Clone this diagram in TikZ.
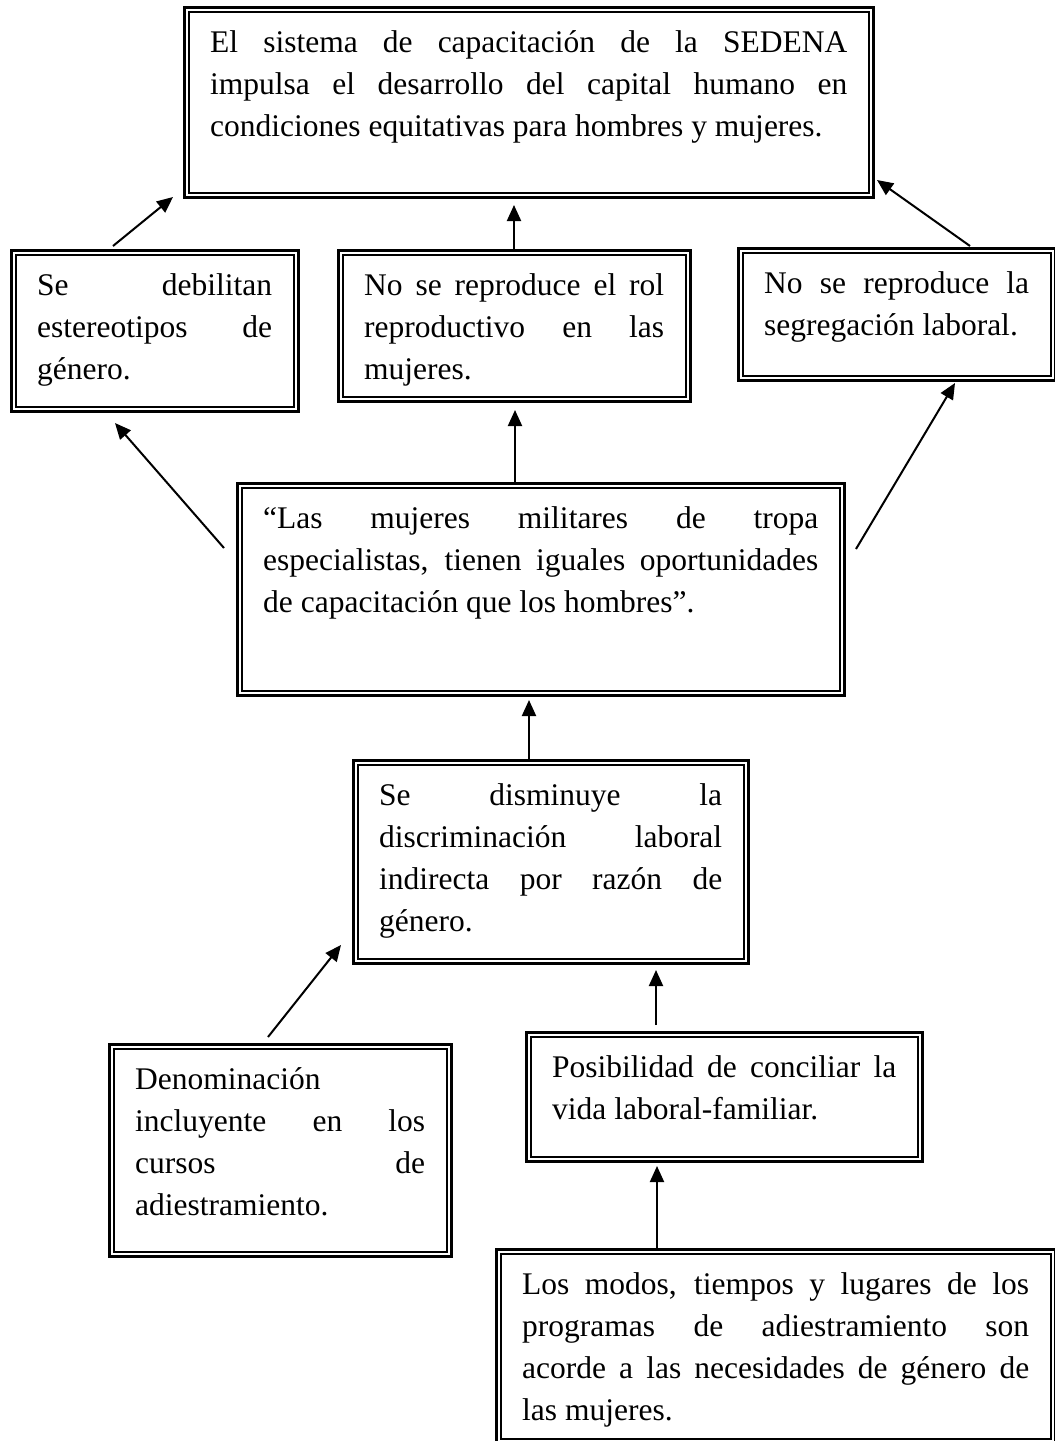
\documentclass[tikz,border=0pt]{standalone}
\usepackage{fontspec}
\setmainfont{Liberation Serif}
\usetikzlibrary{arrows.meta}
\newcommand\boxfont{\fontsize{31.5}{42}\selectfont\tolerance=10000\hyphenpenalty=10000\exhyphenpenalty=10000\relax}
\newcommand\dbox[5]{%
  \pgfmathsetmacro\dbW{#4-#2-3}\pgfmathsetmacro\dbH{#5-#3-3}%
  \node[bx, minimum width=\dbW pt, minimum height=\dbH pt] (#1) at (#2,#3) {};%
  \draw[inl] ([shift={(5.8,5.8)}]#1.north west) rectangle ([shift={(-5.8,-5.8)}]#1.south east);%
}
\newcommand\btext[5]{%
  \pgfmathsetmacro\dbT{#4-#2-55}%
  \node[txt, text width=\dbT pt] (#1) at (#2+27,#3+46) {#5};%
}
\begin{document}
\begin{tikzpicture}[x=1pt,y=-1pt,
  bx/.style={draw, line width=3pt, inner sep=0pt, anchor=north west},
  inl/.style={line width=1.5pt},
  txt/.style={anchor=base west, inner sep=0pt, align=justify, font=\boxfont},
  arr/.style={line width=2pt, -{Triangle[length=16pt,width=14pt]}}]
\fill[white] (0,0) rectangle (1055,1441);
\useasboundingbox (0,0) rectangle (1055,1441);
% boxes
\dbox{T}{183}{6}{875}{199}
\dbox{A}{10}{249}{300}{413}
\dbox{B}{337}{249}{692}{403}
\dbox{C}{737}{247}{1057}{382}
\dbox{M}{236}{482}{846}{697}
\dbox{D}{352}{759}{750}{965}
\dbox{N}{108}{1043}{453}{1258}
\dbox{P}{525}{1031}{924}{1163}
\dbox{L}{495}{1248}{1057}{1445}
% texts
\btext{tT}{183}{6}{875}{El sistema de capacitación de la SEDENA\linebreak impulsa el desarrollo del capital humano en\linebreak condiciones equitativas para hombres y mujeres.}
\btext{tA}{10}{249}{300}{Se debilitan\linebreak estereotipos de\linebreak género.}
\btext{tB}{337}{249}{692}{No se reproduce el rol\linebreak reproductivo en las\linebreak mujeres.}
\btext{tC}{737}{247}{1057}{No se reproduce la\linebreak segregación laboral.}
\btext{tM}{236}{482}{846}{“Las mujeres militares de tropa\linebreak especialistas, tienen iguales oportunidades\linebreak de capacitación que los hombres”.}
\btext{tD}{352}{759}{750}{Se disminuye la\linebreak discriminación laboral\linebreak indirecta por razón de\linebreak género.}
\btext{tN}{108}{1043}{453}{Denominación\newline incluyente en los\linebreak cursos de\linebreak adiestramiento.}
\btext{tP}{525}{1031}{924}{Posibilidad de conciliar la\linebreak vida laboral-familiar.}
\btext{tL}{495}{1248}{1057}{Los modos, tiempos y lugares de los\linebreak programas de adiestramiento son\linebreak acorde a las necesidades de género de\linebreak las mujeres.}
% connectors
\draw[arr] ([shift={(103,-3)}]A.north west) -- ([shift={(-10,-2)}]T.south west);
\draw[arr] ([shift={(177,0)}]B.north west) -- ([shift={(331,6)}]T.south west);
\draw[arr] ([shift={(233,-1)}]C.north west) -- ([shift={(2,-19)}]T.south east);
\draw[arr] ([shift={(-12,66)}]M.north west) -- ([shift={(105,10)}]A.south west);
\draw[arr] ([shift={(279,0)}]M.north west) -- ([shift={(178,7)}]B.south west);
\draw[arr] ([shift={(10,67)}]M.north east) -- ([shift={(218,1)}]C.south west);
\draw[arr] ([shift={(177,0)}]D.north west) -- ([shift={(293,3)}]M.south west);
\draw[arr] ([shift={(160,-6)}]N.north west) -- ([shift={(-11,-20)}]D.south west);
\draw[arr] ([shift={(131,-6)}]P.north west) -- ([shift={(304,5)}]D.south west);
\draw[arr] ([shift={(162,0)}]L.north west) -- ([shift={(132,3)}]P.south west);
\end{tikzpicture}
\end{document}
